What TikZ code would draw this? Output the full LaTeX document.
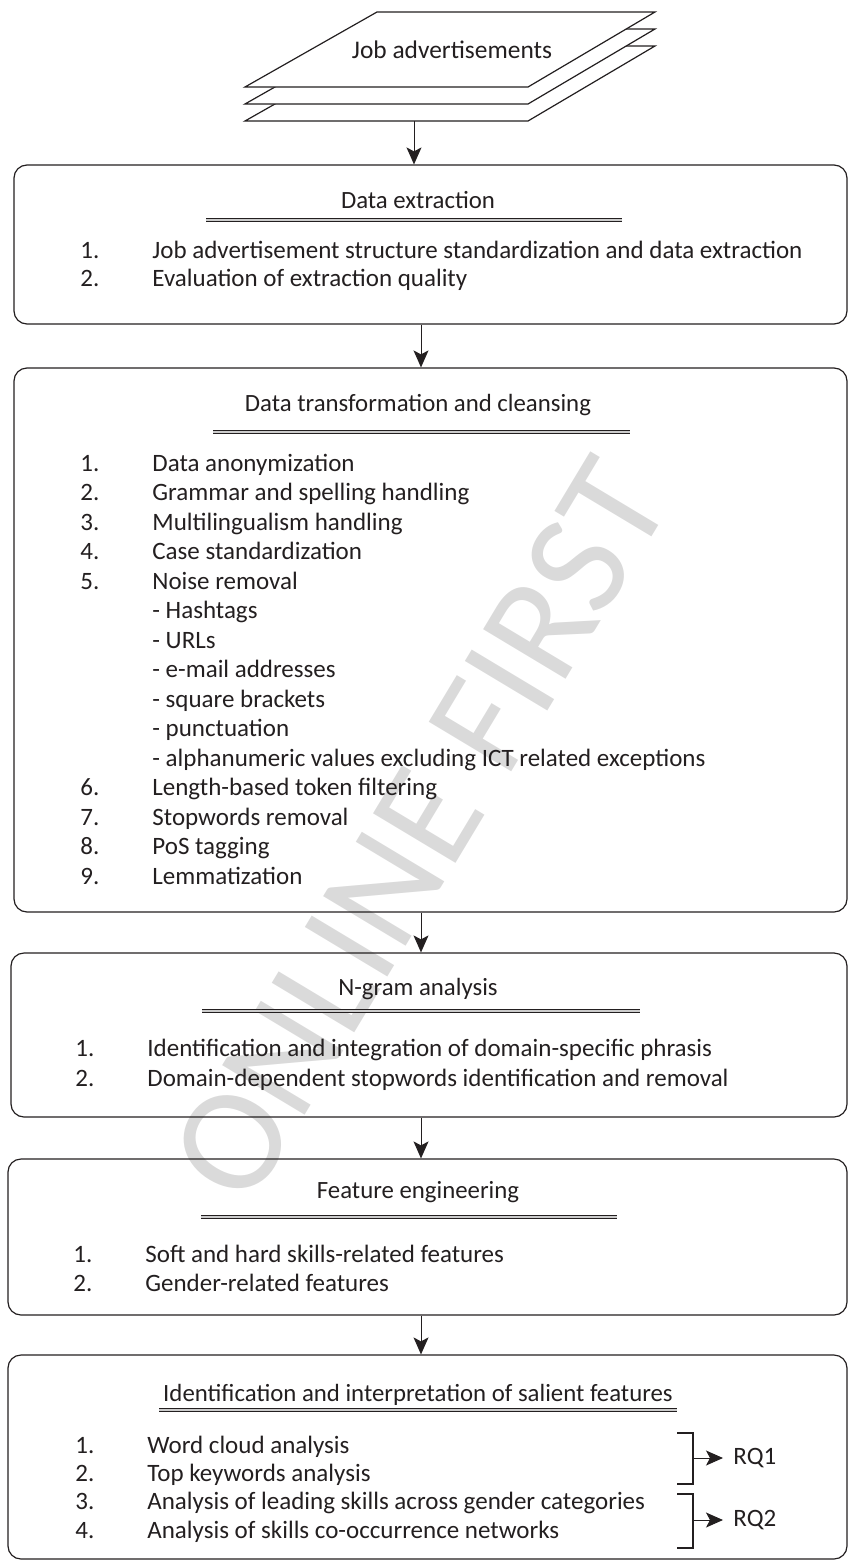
\documentclass[tikz,border=0pt]{standalone}
\usepackage{fontspec}
\setmainfont{Carlito}
\usepackage{tikz}
\usetikzlibrary{arrows.meta, positioning, fit}
\definecolor{inkgray}{RGB}{35, 31, 32}
\definecolor{markgray}{RGB}{218, 218, 218}

\begin{document}
\begin{tikzpicture}[
    x=0.5pt, y=-0.5pt,
    stage/.style={draw=inkgray, line width=0.6pt, rounded corners=6.5pt, inner sep=0pt},
    sheet/.style={draw=inkgray, line width=0.6pt, fill=white},
    heading/.style={anchor=base, inner sep=0pt, text=inkgray, font=\fontsize{12.4}{14.6}\selectfont},
    steps/.style={anchor=base west, inner sep=0pt, text=inkgray, font=\fontsize{12.5}{14.6}\selectfont},
    titlerule/.style={draw=inkgray, line width=0.35pt, double=black!20, double distance=1.2pt},
    arrow/.style={-{Stealth[length=8.5pt, width=7.5pt, inset=2pt]}, line width=0.5pt, inkgray},
    bracket/.style={line width=0.6pt, inkgray}
]
\useasboundingbox (0,0) rectangle (849,1563);

% Watermark
\node[rotate=59, text=markgray, font=\fontsize{75}{75}\selectfont] (mark) at (420,830) {ONLINE FIRST};

% Input stack
\draw[sheet] (245,121) -- (528,121) -- (655,46) -- (377,46) -- cycle;
\draw[sheet] (245,104) -- (528,104) -- (655,29) -- (377,29) -- cycle;
\draw[sheet] (245,87) -- (528,87) -- (655,12) -- (377,12) -- cycle;
\node[heading, anchor=center, font=\fontsize{12.7}{15}\selectfont] (jobs) at (452,50) {Job advertisements};
\coordinate (stackout) at (414,121);
\coordinate (spine) at (421,0);

% Stage boxes
\node[stage, fit={(14,165) (847,324)}] (extract) {};
\node[stage, fit={(14,368) (847,912)}] (cleanse) {};
\node[stage, fit={(11,953) (847,1117)}] (ngram) {};
\node[stage, fit={(8,1159) (847,1315)}] (feature) {};
\node[stage, fit={(8,1355) (847,1559)}] (salient) {};

% Data extraction
\node[heading] (extract-title) at (418,208) {Data extraction};
\draw[titlerule] (206,220) -- (622,220);
\node[steps, font=\fontsize{12.5}{14}\selectfont] (extract-list) at (80,258) {\begin{tabular}[t]{@{}p{36pt}@{}l@{}}
1. & Job advertisement structure standardization and data extraction\\
2. & Evaluation of extraction quality
\end{tabular}};

% Data transformation and cleansing
\node[heading] (cleanse-title) at (418,411) {Data transformation and cleansing};
\draw[titlerule] (213,432) -- (630,432);
\node[steps, font=\fontsize{12.5}{14.75}\selectfont] (cleanse-list) at (80,471) {\begin{tabular}[t]{@{}p{36pt}@{}l@{}}
1. & Data anonymization\\
2. & Grammar and spelling handling\\
3. & Multilingualism handling\\
4. & Case standardization\\
5. & Noise removal\\
   & - Hashtags\\
   & - URLs\\
   & - e-mail addresses\\
   & - square brackets\\
   & - punctuation\\
   & - alphanumeric values excluding ICT related exceptions\\
6. & Length-based token filtering\\
7. & Stopwords removal\\
8. & PoS tagging\\
9. & Lemmatization
\end{tabular}};

% N-gram analysis
\node[heading] (ngram-title) at (418,995) {N-gram analysis};
\draw[titlerule] (202,1011) -- (640,1011);
\node[steps, font=\fontsize{12.5}{15}\selectfont] (ngram-list) at (75,1056) {\begin{tabular}[t]{@{}p{36pt}@{}l@{}}
1. & Identification and integration of domain-specific phrasis\\
2. & Domain-dependent stopwords identification and removal
\end{tabular}};

% Feature engineering
\node[heading] (feature-title) at (418,1198) {Feature engineering};
\draw[titlerule] (201,1217) -- (617,1217);
\node[steps] (feature-list) at (73,1262) {\begin{tabular}[t]{@{}p{36pt}@{}l@{}}
1. & Soft and hard skills-related features\\
2. & Gender-related features
\end{tabular}};

% Salient features
\node[heading] (salient-title) at (418,1401) {Identification and interpretation of salient features};
\draw[titlerule] (159,1410) -- (677,1410);
\node[steps, font=\fontsize{12.5}{14.2}\selectfont] (salient-list) at (75,1453) {\begin{tabular}[t]{@{}p{36pt}@{}l@{}}
1. & Word cloud analysis\\
2. & Top keywords analysis\\
3. & Analysis of leading skills across gender categories\\
4. & Analysis of skills co-occurrence networks
\end{tabular}};

% Research questions
\coordinate (q1) at (693,1458);
\coordinate (q2) at (693,1520);
\node[steps, anchor=west, inner sep=5pt] (rq1) at (723,1458) {RQ1};
\node[steps, anchor=west, inner sep=5pt] (rq2) at (723,1520) {RQ2};
\draw[bracket] (677,1433) -- (693,1433) -- (693,1484) -- (677,1484);
\draw[bracket] (677,1494) -- (693,1494) -- (693,1548) -- (677,1548);
\draw[arrow] (q1) -- (rq1.west);
\draw[arrow] (q2) -- (rq2.west);

% Arrows
\draw[arrow] (stackout) -- (stackout |- extract.north);
\draw[arrow] (extract.south -| spine) -- (cleanse.north -| spine);
\draw[arrow] (cleanse.south -| spine) -- (ngram.north -| spine);
\draw[arrow] (ngram.south -| spine) -- (feature.north -| spine);
\draw[arrow] (feature.south -| spine) -- (salient.north -| spine);
\end{tikzpicture}
\end{document}
